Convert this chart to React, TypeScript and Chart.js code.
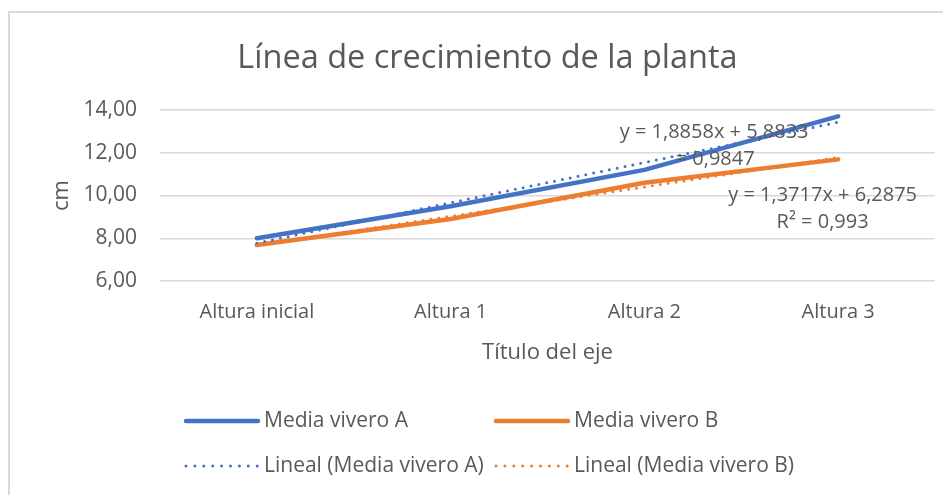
import React, { useEffect, useRef } from "react";
import { Chart, registerables } from "chart.js";

Chart.register(...registerables);

const categories = ["Altura inicial", "Altura 1", "Altura 2", "Altura 3"];
const seriesA = [8.0, 9.5, 11.2, 13.7];
const seriesB = [7.68, 8.9, 10.6, 11.69];
// trend line values read from the displayed equations
const trendA = [7.77, 9.66, 11.54, 13.43];
const trendB = [7.66, 9.03, 10.40, 11.78];
const yTicks = [6, 8, 10, 12, 14];
const titleText = "Línea de crecimiento de la planta";
const xTitle = "Título del eje";
const yTitle = "cm";
const legendLabels = ["Media vivero A", "Media vivero B", "Lineal (Media vivero A)", "Lineal (Media vivero B)"];
const eqA = ["y = 1,8858x + 5,8833", "= 0,9847"];
const eqB = ["y = 1,3717x + 6,2875", "R² = 0,993"];

const BLUE = "#4472C4";
const ORANGE = "#ED7D31";
const TEXT = "#595959";
const GRID = "#d9d9d9";
const FONT = "'Open Sans', sans-serif";

const W = 943;
const H = 487;

export default function App() {
  const ref = useRef<HTMLCanvasElement | null>(null);
  useEffect(() => {
    const canvas = ref.current;
    if (!canvas) return;

    const decor = {
      id: "decor",
      beforeDraw(chart: any) {
        const ctx = chart.ctx;
        ctx.save();
        ctx.fillStyle = "#ffffff";
        ctx.fillRect(0, 0, chart.width, chart.height);
        ctx.fillStyle = GRID;
        ctx.fillRect(0, 3, 2, chart.height);
        ctx.fillRect(0, 3, chart.width, 2);
        ctx.fillStyle = TEXT;
        ctx.font = `32.5px ${FONT}`;
        ctx.textAlign = "center";
        ctx.textBaseline = "alphabetic";
        ctx.fillText(titleText, chart.width / 2 + 8, 60);
        ctx.restore();
      },
      afterDatasetsDraw(chart: any) {
        const ctx = chart.ctx;
        const xs = chart.scales.x;
        const ys = chart.scales.y;
        ctx.save();
        ctx.fillStyle = TEXT;
        ctx.font = `20px ${FONT}`;
        ctx.textAlign = "center";
        ctx.textBaseline = "middle";
        const xa = xs.getPixelForValue(2.36);
        ctx.fillText(eqA[0], xa, ys.getPixelForValue(12.98));
        ctx.fillText(eqA[1], xa + 1, ys.getPixelForValue(11.68));
        const xb = xs.getPixelForValue(2.92);
        ctx.fillText(eqB[0], xb, ys.getPixelForValue(10.02));
        ctx.fillText(eqB[1], xb, ys.getPixelForValue(8.76));
        ctx.restore();
      },
      afterDraw(chart: any) {
        const ctx = chart.ctx;
        ctx.save();
        const items = [
          { label: legendLabels[0], color: BLUE, dotted: false, x: 178, y: 413 },
          { label: legendLabels[1], color: ORANGE, dotted: false, x: 488, y: 413 },
          { label: legendLabels[2], color: BLUE, dotted: true, x: 178, y: 458 },
          { label: legendLabels[3], color: ORANGE, dotted: true, x: 488, y: 458 },
        ];
        items.forEach((it) => {
          ctx.beginPath();
          ctx.strokeStyle = it.color;
          ctx.lineCap = "round";
          if (it.dotted) {
            ctx.lineWidth = 3;
            ctx.setLineDash([0, 8.9]);
          } else {
            ctx.lineWidth = 4.5;
            ctx.setLineDash([]);
          }
          ctx.moveTo(it.x, it.y);
          ctx.lineTo(it.x + 72, it.y);
          ctx.stroke();
          ctx.setLineDash([]);
          ctx.fillStyle = TEXT;
          ctx.font = `21px ${FONT}`;
          ctx.textAlign = "left";
          ctx.textBaseline = "middle";
          ctx.fillText(it.label, it.x + 78, it.y);
        });
        ctx.restore();
      },
    };

    const chart = new Chart(canvas, {
      type: "line",
      data: {
        labels: categories,
        datasets: [
          {
            label: legendLabels[0],
            data: seriesA,
            borderColor: BLUE,
            backgroundColor: BLUE,
            borderWidth: 4.5,
            borderCapStyle: "round",
            borderJoinStyle: "round",
            pointRadius: 0,
            tension: 0,
            order: 4,
          },
          {
            label: legendLabels[1],
            data: seriesB,
            borderColor: ORANGE,
            backgroundColor: ORANGE,
            borderWidth: 4.5,
            borderCapStyle: "round",
            borderJoinStyle: "round",
            pointRadius: 0,
            tension: 0,
            order: 3,
          },
          {
            label: legendLabels[2],
            data: trendA,
            borderColor: BLUE,
            borderWidth: 3,
            borderDash: [0, 8],
            borderCapStyle: "round",
            pointRadius: 0,
            tension: 0,
            order: 2,
          },
          {
            label: legendLabels[3],
            data: trendB,
            borderColor: ORANGE,
            borderWidth: 3,
            borderDash: [0, 8],
            borderCapStyle: "round",
            pointRadius: 0,
            tension: 0,
            order: 1,
          },
        ],
      },
      options: {
        responsive: false,
        animation: false,
        events: [],
        layout: { padding: { left: 40, right: 16, top: 102, bottom: 129 } },
        plugins: {
          legend: { display: false },
          title: { display: false },
          tooltip: { enabled: false },
        },
        scales: {
          x: {
            offset: true,
            grid: { display: false, drawTicks: false },
            border: { display: false },
            ticks: { color: TEXT, font: { family: FONT, size: 20 }, padding: 19, maxRotation: 0, autoSkip: false },
            title: { display: true, text: xTitle, color: TEXT, font: { family: FONT, size: 22 }, padding: { top: 0, bottom: 0 } },
            afterFit: (scale: any) => {
              scale.height = 85;
            },
          },
          y: {
            min: 6,
            max: 14,
            afterBuildTicks: (scale: any) => {
              scale.ticks = yTicks.map((v) => ({ value: v }));
            },
            grid: { color: GRID, lineWidth: 1.5, drawTicks: false },
            border: { display: false },
            ticks: {
              color: TEXT,
              font: { family: FONT, size: 21 },
              padding: 23,
              callback: (v: any) => Number(v).toFixed(2).replace(".", ","),
            },
            title: { display: true, text: yTitle, color: TEXT, font: { family: FONT, size: 22 }, padding: { top: 1, bottom: 0 } },
            afterFit: (scale: any) => {
              scale.width = 112;
            },
          },
        },
      },
      plugins: [decor],
    } as any);
    return () => chart.destroy();
  }, []);

  return (
    <div style={{ width: W, height: H }}>
      <canvas ref={ref} width={W} height={H} style={{ display: "block", width: W, height: H }} />
    </div>
  );
}
